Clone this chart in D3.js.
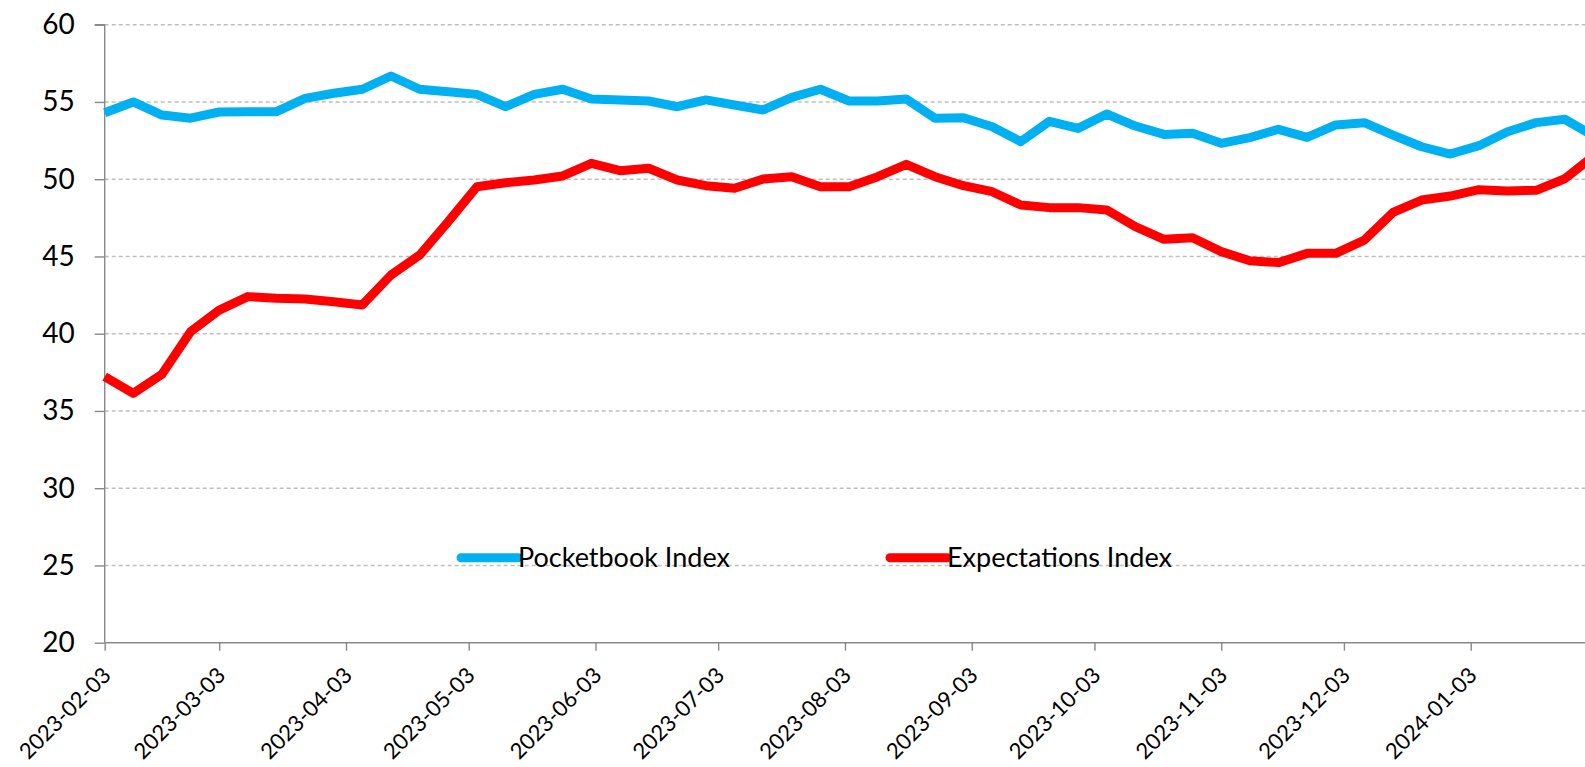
<!DOCTYPE html>
<html>
<head>
<meta charset="utf-8">
<script src="https://cdn.jsdelivr.net/npm/d3@7"></script>
<style>
  body { margin: 0; background: #fff; }
  text { font-family: Lato, "Open Sans", sans-serif; fill: #000; }
</style>
</head>
<body>
<div id="chart"></div>
<script>
// weekly survey dates
const dates = ["2023-02-03", "2023-02-10", "2023-02-17", "2023-02-24", "2023-03-03", "2023-03-10", "2023-03-17", "2023-03-24", "2023-03-31",
  "2023-04-07", "2023-04-14", "2023-04-21", "2023-04-28", "2023-05-05", "2023-05-12", "2023-05-19", "2023-05-26",
  "2023-06-02", "2023-06-09", "2023-06-16", "2023-06-23", "2023-06-30", "2023-07-07", "2023-07-14", "2023-07-21", "2023-07-28",
  "2023-08-04", "2023-08-11", "2023-08-18", "2023-08-25", "2023-09-01", "2023-09-08", "2023-09-15", "2023-09-22", "2023-09-29",
  "2023-10-06", "2023-10-13", "2023-10-20", "2023-10-27", "2023-11-03", "2023-11-10", "2023-11-17", "2023-11-24",
  "2023-12-01", "2023-12-08", "2023-12-15", "2023-12-22", "2023-12-29", "2024-01-05", "2024-01-12", "2024-01-19", "2024-01-26", "2024-02-02"]

const pocketbook = [54.3, 55.0, 54.15, 53.95, 54.35, 54.37, 54.37, 55.23, 55.56, 55.82, 56.68, 55.82, 55.66, 55.49, 54.69, 55.49, 55.82,
  55.19, 55.13, 55.06, 54.69, 55.13, 54.8, 54.48, 55.3, 55.82, 55.06, 55.06, 55.19, 53.94, 53.98, 53.4, 52.43, 53.75, 53.29,
  54.22, 53.44, 52.9, 52.97, 52.32, 52.69, 53.23, 52.71, 53.51, 53.66, 52.86, 52.1, 51.63, 52.17, 53.07, 53.66, 53.88, 52.8]

const expectations = [37.22, 36.14, 37.37, 40.13, 41.53, 42.4, 42.29, 42.25, 42.07, 41.86, 43.8, 45.09, 47.25, 49.51, 49.77, 49.95, 50.21,
  51.03, 50.55, 50.71, 49.95, 49.58, 49.41, 50.01, 50.16, 49.51, 49.51, 50.16, 50.96, 50.16, 49.58, 49.19, 48.33, 48.16, 48.16,
  48.01, 46.93, 46.11, 46.21, 45.31, 44.72, 44.6, 45.2, 45.2, 46.06, 47.85, 48.65, 48.91, 49.32, 49.24, 49.28, 50.03, 51.5]

const xTicks = ["2023-02-03", "2023-03-03", "2023-04-03", "2023-05-03", "2023-06-03", "2023-07-03", "2023-08-03",
  "2023-09-03", "2023-10-03", "2023-11-03", "2023-12-03", "2024-01-03"]
const yTicks = [20, 25, 30, 35, 40, 45, 50, 55, 60]

const seriesNames = ["Pocketbook Index", "Expectations Index"]
const seriesColors = ["#00b0f0", "#ff0000"]

const width = 1585, height = 767
const parse = d3.utcParse("%Y-%m-%d")

const svg = d3.select("#chart")
  .append("svg")
  .attr("width", width)
  .attr("height", height)

// the plot area runs past the right edge of the picture, so the scale is set by two known ticks
const x = d3.scaleUtc()
  .domain([parse("2023-02-03"), parse("2024-01-03")])
  .range([104.7, 1470.7])
const plotRight = x(parse("2024-02-03"))

const y = d3.scaleLinear()
  .domain([20, 60])
  .range([642.7, 24.7])

// gridlines
svg.append("g")
  .selectAll("line")
  .data(yTicks.filter(d => d > 20))
  .join("line")
  .attr("x1", x.range()[0])
  .attr("x2", plotRight)
  .attr("y1", d => y(d))
  .attr("y2", d => y(d))
  .style("stroke", "#bfbfbf")
  .style("stroke-width", 1.4)
  .style("stroke-dasharray", "4,3")

// y axis
const yAxis = svg.append("g")
  .attr("transform", `translate(${x.range()[0]},0)`)
  .call(d3.axisLeft(y).tickValues(yTicks).tickSize(10).tickPadding(20))
yAxis.selectAll("path, line").style("stroke", "#898989").style("stroke-width", 1.4)
yAxis.selectAll("text").style("font-size", "28px").style("font-family", "Lato, sans-serif")
yAxis.select(".domain").attr("d", `M-10,${y(60)}H0V${y(20)}`)

// x axis
const xAxis = svg.append("g")
  .attr("transform", `translate(0,${y(20)})`)
  .call(d3.axisBottom(x).tickValues(xTicks.map(parse)).tickSize(8).tickFormat(d3.utcFormat("%Y-%m-%d")))
xAxis.select(".domain").attr("d", `M${x.range()[0]},0H${plotRight}`)
xAxis.selectAll("path, line").style("stroke", "#898989").style("stroke-width", 1.4)
xAxis.selectAll("text")
  .style("font-size", "22px")
  .style("font-family", "Lato, sans-serif")
  .attr("text-anchor", "end")
  .attr("y", 0)
  .attr("dy", 0)
  .attr("transform", "translate(7,34) rotate(-45)")

// lines
const series = [pocketbook, expectations]
const line = d3.line()
  .x((d, i) => x(parse(dates[i])))
  .y(d => y(d))

svg.append("g")
  .selectAll("path")
  .data(series)
  .join("path")
  .attr("d", line)
  .style("fill", "none")
  .style("stroke", (d, i) => seriesColors[i])
  .style("stroke-width", 9)
  .style("stroke-linejoin", "round")

// legend
const legendX = [461, 890]
const legend = svg.append("g")
  .selectAll("g")
  .data(seriesNames)
  .join("g")
  .attr("transform", (d, i) => `translate(${legendX[i]},557.7)`)
legend.append("line")
  .attr("x1", 0).attr("x2", 57)
  .style("stroke", (d, i) => seriesColors[i])
  .style("stroke-width", 9)
  .style("stroke-linecap", "round")
legend.append("text")
  .attr("x", 57)
  .attr("dy", "0.35em")
  .style("font-size", "27px")
  .text(d => d)
</script>
</body>
</html>
